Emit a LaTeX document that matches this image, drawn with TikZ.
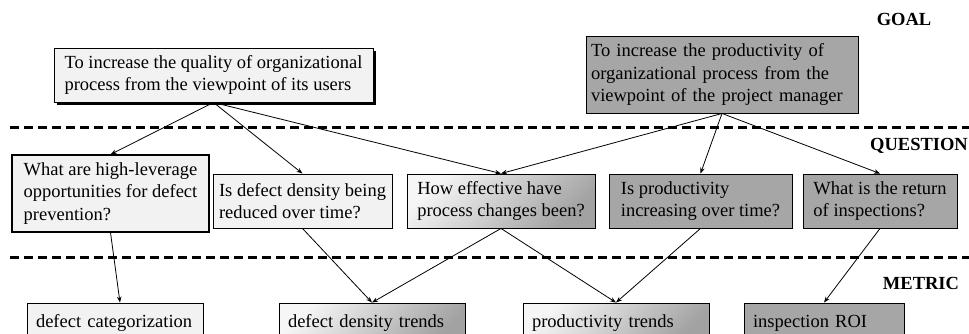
\documentclass[tikz,border=0pt]{standalone}
\usepackage{fontspec}
\setmainfont{Liberation Serif}
\usetikzlibrary{arrows.meta,shadows}
\definecolor{lightbox}{RGB}{242,242,242}
\definecolor{darkbox}{RGB}{166,166,166}
\definecolor{gradlight}{RGB}{246,246,246}
\definecolor{graddark}{RGB}{162,162,162}
\begin{document}
\begin{tikzpicture}[x=1pt,y=-1pt,
  box/.style={draw=black, line width=0.9pt, inner xsep=8pt, inner ysep=0pt, align=left,
              font=\fontsize{18.5}{22.5}\selectfont, anchor=center},
  metricbox/.style={box, minimum height=40pt, text width=#1-18pt, minimum width=#1},
  lightfill/.style={fill=lightbox},
  darkfill/.style={fill=darkbox},
  gradfill/.style={top color=gradlight, bottom color=graddark, shading angle=45},
  conn/.style={-{Stealth[length=6pt,width=4.5pt]}, line width=0.8pt},
  level/.style={font=\bfseries\fontsize{18.5}{20}\selectfont},
  sep/.style={dash pattern=on 9pt off 5pt, line width=3pt}]
\useasboundingbox (0,0) rectangle (969,333);
\clip (0,0) rectangle (969,333);
\fill[white] (0,0) rectangle (969,333);

% level separators
\draw[sep] (10,127) -- (969,127);
\draw[sep] (10,257) -- (969,257);

% level labels
\node[level] (lgoal) at (904,19) {GOAL};
\node[level] (lquestion) at (919,146) {QUESTION};
\node[level] (lmetric) at (921,283) {METRIC};

% goals
\node[box, lightfill, minimum width=319pt, minimum height=54pt,
      drop shadow={shadow xshift=2.5pt, shadow yshift=-2.5pt, fill=black, opacity=1}]
  (g1) at (213.5,75) {To increase the quality of organizational\\process from the viewpoint of its users};
\node[box, darkfill, inner xsep=5pt, minimum width=272pt, text width=262pt, minimum height=77pt]
  (g2) at (722,74.5) {To increase the productivity of\\organizational process from the\\viewpoint of the project manager};

% questions
\node[box, lightfill, line width=1.1pt, minimum width=197pt, minimum height=77pt]
  (q1) at (110.5,193.5) {What are high-leverage\\opportunities for defect\\prevention?};
\node[box, lightfill, inner xsep=5pt, minimum width=179pt, minimum height=54pt]
  (q2) at (302.5,201) {Is defect density being\\reduced over time?};
\node[box, gradfill, minimum width=188pt, minimum height=54pt]
  (q3) at (501,201) {How effective have\\process changes been?};
\node[box, darkfill, minimum width=183pt, minimum height=54pt]
  (q4) at (700.5,201) {Is productivity\\increasing over time?};
\node[box, darkfill, inner xsep=5pt, minimum width=154pt, minimum height=54pt]
  (q5) at (880,201) {What is the return\\of inspections?};

% metrics
\node[metricbox=176pt, lightfill] (m1) at (115,323) {defect categorization};
\node[metricbox=186pt, gradfill]  (m2) at (372,323) {defect density trends};
\node[metricbox=186pt, gradfill]  (m3) at (616,323) {productivity trends};
\node[metricbox=160pt, darkfill]  (m4) at (824,323) {inspection ROI};

% connectors
\draw[conn] (g1.south) -- (q1.north);
\draw[conn] (g1.south) -- (q2.north);
\draw[conn] (g1.south) -- (q3.north);
\draw[conn] (g2.south) -- (q3.north);
\draw[conn] (g2.south) -- (q4.north);
\draw[conn] (g2.south) -- (q5.north);
\draw[conn] (q1.south) -- ([xshift=5pt]m1.north);
\draw[conn] (q2.south) -- (m2.north);
\draw[conn] (q3.south) -- (m2.north);
\draw[conn] (q3.south) -- (m3.north);
\draw[conn] (q4.south) -- (m3.north);
\draw[conn] (q5.south) -- (m4.north);
\end{tikzpicture}
\end{document}
